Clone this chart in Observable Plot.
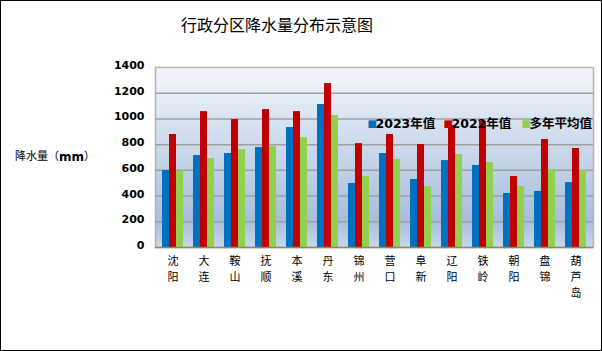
<!DOCTYPE html>
<html>
<head>
<meta charset="utf-8">
<script src="https://cdn.jsdelivr.net/npm/d3@7"></script>
<script src="https://cdn.jsdelivr.net/npm/@observablehq/plot@0.6"></script>
<style>
  html, body { margin: 0; padding: 0; background: #fff; }
  #chart svg { display: block; outline: 1px solid #000; outline-offset: -1px; }
</style>
</head>
<body>
<div id="chart"></div>
<script>
const cities = ["沈阳","大连","鞍山","抚顺","本溪","丹东","锦州","营口","阜新","辽阳","铁岭","朝阳","盘锦","葫芦岛"];
const seriesNames = ["2023年值","2022年值","多年平均值"];
const seriesColors = ["#0070c0","#c00000","#92d050"];
const v2023 = [599, 715, 731, 778, 933, 1112, 498, 731, 529, 676, 638, 420, 436, 505];
const v2022 = [879, 1057, 995, 1073, 1057, 1275, 808, 879, 801, 949, 980, 552, 840, 770];
const vAvg  = [593, 692, 762, 785, 855, 1026, 552, 684, 474, 723, 661, 474, 607, 599];
const yTicks = [0, 200, 400, 600, 800, 1000, 1200, 1400];
const title = "行政分区降水量分布示意图";
const yLabelParts = ["降水量（", "mm", "）"];

const seriesValues = [v2023, v2022, vAvg];
const tables = seriesValues.map((vals, s) => cities.map((c, i) => ({city: c, value: vals[i], series: seriesNames[s]})));

const cjk = "'Noto Sans CJK SC', sans-serif";
const num = "'DejaVu Sans', sans-serif";
const insets = [[0, 14], [7, 7], [14, 0]];

const legendDx = [212, 288, 366];
const charRows = [0, 1, 2];

const plot = Plot.plot({
  width: 602,
  height: 351,
  marginLeft: 155,
  marginRight: 9,
  marginTop: 67,
  marginBottom: 104,
  style: {background: "#fff", color: "#000"},
  x: {domain: cities, paddingInner: 0.33, paddingOuter: 0.17, label: null},
  y: {domain: [0, 1400], label: null},
  marks: [
    Plot.frame({fill: "url(#bgGrad)", stroke: "#b4b4b4", strokeWidth: 1.5}),
    Plot.ruleY(yTicks.filter(d => d > 0 && d < 1400), {stroke: "#a0a0a0", strokeWidth: 1.5}),
    ...tables.map((t, s) => Plot.barY(t, {
      x: "city", y: "value", fill: seriesColors[s],
      insetLeft: insets[s][0], insetRight: insets[s][1]
    })),
    Plot.ruleY([0], {stroke: "#8c8a5a", strokeWidth: 1.5}),
    Plot.axisY({ticks: yTicks, tickSize: 0, tickPadding: 11, fontSize: 11, fontWeight: "bold", fontFamily: num, dy: -2,
      tickFormat: d => String(d), label: null}),
    ...charRows.map(k => Plot.axisX({tickSize: 0, tickPadding: 10 + 16 * k, fontSize: 11, fontFamily: cjk,
      tickFormat: d => d[k] ?? "", label: null})),
    ...seriesNames.map((n, s) => Plot.text([n], {
      frameAnchor: "top-left", dx: legendDx[s], dy: 52, text: d => "■",
      fill: seriesColors[s], fontSize: 10, textAnchor: "start", fontFamily: num
    })),
    ...seriesNames.map((n, s) => Plot.text([n], {
      frameAnchor: "top-left", dx: legendDx[s] + 8, dy: 52, text: d => d,
      fill: "#000", fontSize: 12.5, fontWeight: "bold", textAnchor: "start", fontFamily: num + "," + cjk
    }))
  ]
});

const svg = d3.select(plot);
const defs = svg.insert("defs", ":first-child");
const g = defs.append("linearGradient").attr("id", "bgGrad").attr("x1", 0).attr("y1", 0).attr("x2", 0).attr("y2", 1);
g.append("stop").attr("offset", "0%").attr("stop-color", "#f3f6fb");
g.append("stop").attr("offset", "85%").attr("stop-color", "#a7bedc");
g.append("stop").attr("offset", "100%").attr("stop-color", "#c9d7eb");

svg.append("text").attr("x", 277).attr("y", 27).attr("text-anchor", "middle").attr("dominant-baseline", "middle")
  .attr("font-family", cjk).attr("font-size", 16).text(title);
const yl = svg.append("text").attr("x", 15).attr("y", 157).attr("text-anchor", "start").attr("dominant-baseline", "middle")
  .attr("font-family", cjk).attr("font-size", 11);
yl.append("tspan").text(yLabelParts[0]);
yl.append("tspan").attr("font-family", num).attr("font-weight", "bold").attr("font-size", 12).text(yLabelParts[1]);
yl.append("tspan").text(yLabelParts[2]);

document.getElementById("chart").appendChild(plot);
</script>
</body>
</html>
